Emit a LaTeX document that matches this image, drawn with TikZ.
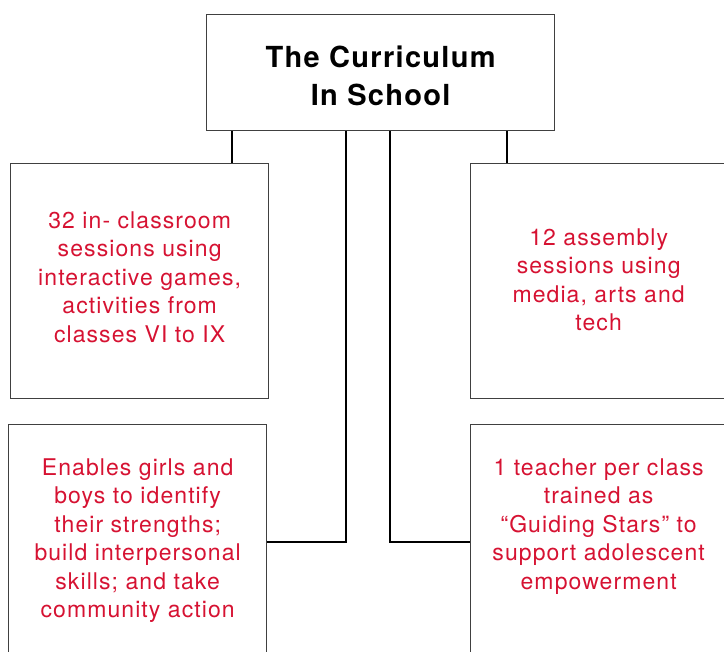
\documentclass[tikz,border=0pt]{standalone}
\usepackage{fontspec}
\setmainfont{TeX Gyre Heros}
\usepackage{tikz}
\usetikzlibrary{positioning, calc}
\definecolor{boxred}{RGB}{214, 18, 50}
\definecolor{boxline}{RGB}{64, 64, 64}

\begin{document}
\begin{tikzpicture}[x=1pt, y=-1pt,
    box/.style={draw=boxline, line width=1.3pt, rectangle, anchor=north west,
        minimum width=258pt, minimum height=235pt, inner sep=0pt},
    redtext/.style={text=boxred, align=center,
        font=\fontsize{23}{28.5}\selectfont\addfontfeature{LetterSpace=4.7}},
    link/.style={line width=2.2pt, black}]
    \useasboundingbox (0,0) rectangle (724,652);

    % Title
    \node[box, minimum width=348pt, minimum height=116pt] (title) at (206,14) {};
    \node[align=center, font=\fontsize{29}{38}\selectfont\bfseries\addfontfeature{LetterSpace=4.5}]
        (titletext) at ([yshift=-3pt]title.center) {The Curriculum\\In School};

    % Upper row
    \node[box] (tl) at (10,163) {};
    \node[redtext] (tltext) at ([yshift=4pt]tl.center)
        {32 in- classroom\\sessions using\\interactive games,\\activities from\\classes VI to IX};
    \node[box, minimum width=256pt] (tr) at (470,163) {};
    \node[redtext] (trtext) at ([yshift=1.5pt]tr.center)
        {12 assembly\\sessions using\\media, arts and\\tech};

    % Lower row
    \node[box, minimum height=234pt] (bl) at (8,424) {};
    \node[redtext] (bltext) at ([yshift=1pt]bl.center)
        {Enables girls and\\boys to identify\\their strengths;\\build interpersonal\\skills; and take\\community action};
    \node[box, minimum width=256pt, minimum height=234pt] (br) at (470,424) {};
    \node[redtext, anchor=north] (brtext) at (bltext.north -| br.center)
        {1 teacher per class\\trained as\\``Guiding Stars'' to\\support adolescent\\empowerment};

    % Connectors
    \coordinate (tljoin) at ([xshift=26pt]title.south west);
    \coordinate (trjoin) at ([xshift=-48pt]title.south east);
    \coordinate (ljoin) at ([xshift=140pt]title.south west);
    \coordinate (rjoin) at ([xshift=184pt]title.south west);
    \draw[link] (tljoin) -- (tljoin |- tl.north);
    \draw[link] (trjoin) -- (trjoin |- tr.north);
    \draw[link] (ljoin) |- (bl.east);
    \draw[link] (rjoin) |- (br.west);
\end{tikzpicture}
\end{document}
